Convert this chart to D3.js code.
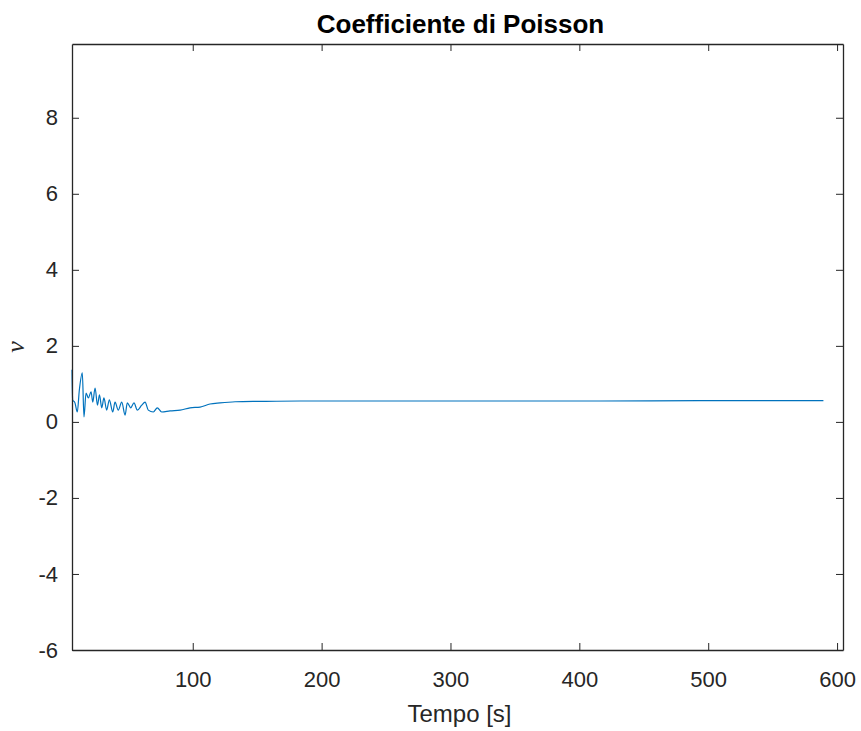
<!DOCTYPE html>
<html>
<head>
<meta charset="utf-8">
<script src="https://cdn.jsdelivr.net/npm/d3@7"></script>
<style>
  html, body { margin: 0; padding: 0; background: #fff; }
  svg { display: block; }
</style>
</head>
<body>
<script>
// ---- data ----
const titleText = "Coefficiente di Poisson";
const xLabel = "Tempo [s]";
const yLabel = "ν";
const xTicks = [100, 200, 300, 400, 500, 600];
const yTicks = [-6, -4, -2, 0, 2, 4, 6, 8];
const xDomain = [6.3, 604.6];
const yDomain = [-6, 9.94];
const time = [6.3, 6.8, 8.6, 10.4, 12.0, 14.3, 15.6, 17.2, 19.0, 21.1, 22.4, 24.2, 26.1, 27.6, 29.4,
  31.1, 33.2, 35.3, 37.9, 39.7, 42.2, 44.9, 47.5, 49.2, 51.9, 54.4, 57.0, 60.4, 63.0, 65.5,
  69.4, 72.5, 75.9, 82.4, 90.2, 97.9, 105.7, 113.4, 121.2, 132.9, 152.3, 183.3, 261, 338.6,
  416, 493.9, 589.4];
const nu = [1.37, 0.58, 0.50, 0.26, 0.84, 1.29, 0.13, 0.76, 0.63, 0.79, 0.52, 0.89, 0.44, 0.71, 0.37,
  0.63, 0.31, 0.58, 0.26, 0.52, 0.31, 0.52, 0.18, 0.50, 0.37, 0.50, 0.31, 0.44, 0.52, 0.31,
  0.26, 0.37, 0.26, 0.29, 0.31, 0.37, 0.39, 0.47, 0.50, 0.53, 0.54, 0.55, 0.55, 0.55,
  0.55, 0.56, 0.56];

// ---- layout ----
const W = 861, H = 731;
const L = 72, R = 843, T = 44, B = 650;
const axisColor = "#262626";
const lineColor = "#0072BD";
const sans = "'Liberation Sans', Arial, Helvetica, sans-serif";

const svg = d3.select("body").append("svg").attr("width", W).attr("height", H);

const x = d3.scaleLinear().domain(xDomain).range([L, R]);
const y = d3.scaleLinear().domain(yDomain).range([B, T]);

// data line
const pts = time.map((t, i) => [t, nu[i]]);
svg.append("path")
  .datum(pts)
  .attr("fill", "none")
  .attr("stroke", lineColor)
  .attr("stroke-width", 1.2)
  .attr("stroke-linejoin", "round")
  .attr("d", d3.line().x(d => x(d[0])).y(d => y(d[1])).curve(d3.curveMonotoneX));

const tickLen = 7;
const fmt = d => String(d);
// axes (inward ticks, box)
const bottomAxis = d3.axisBottom(x).tickValues(xTicks).tickFormat(fmt).tickSizeInner(-tickLen).tickSizeOuter(0).tickPadding(21);
const topAxis = d3.axisTop(x).tickValues(xTicks).tickSizeInner(-tickLen).tickSizeOuter(0).tickFormat("");
const leftAxis = d3.axisLeft(y).tickValues(yTicks).tickFormat(fmt).tickSizeInner(-tickLen).tickSizeOuter(0).tickPadding(14);
const rightAxis = d3.axisRight(y).tickValues(yTicks).tickSizeInner(-tickLen).tickSizeOuter(0).tickFormat("");

function style(g) {
  g.select(".domain").attr("stroke", axisColor).attr("stroke-width", 1.3);
  g.selectAll(".tick line").attr("stroke", axisColor).attr("stroke-width", 1);
  g.selectAll(".tick text").attr("fill", axisColor).style("font-family", sans).style("font-size", "22px");
}

svg.append("g").attr("transform", `translate(0,${B})`).call(bottomAxis).call(style);
svg.append("g").attr("transform", `translate(0,${T})`).call(topAxis).call(style);
svg.append("g").attr("transform", `translate(${L},0)`).call(leftAxis).call(style);
svg.append("g").attr("transform", `translate(${R},0)`).call(rightAxis).call(style);

// title
svg.append("text")
  .attr("x", (L + R) / 2 + 3).attr("y", 33)
  .attr("text-anchor", "middle")
  .style("font-family", sans).style("font-weight", "bold").style("font-size", "26px")
  .attr("fill", "#000")
  .text(titleText);

// x label
svg.append("text")
  .attr("x", (L + R) / 2 + 2).attr("y", 722)
  .attr("text-anchor", "middle")
  .style("font-family", sans).style("font-size", "24px")
  .attr("fill", axisColor)
  .text(xLabel);

// y label
svg.append("text")
  .attr("transform", `translate(24,${(T + B) / 2}) rotate(-90)`)
  .attr("text-anchor", "middle")
  .style("font-family", "'Liberation Serif', 'Times New Roman', serif")
  .style("font-style", "italic").style("font-size", "26px")
  .attr("fill", axisColor)
  .text(yLabel);
</script>
</body>
</html>
